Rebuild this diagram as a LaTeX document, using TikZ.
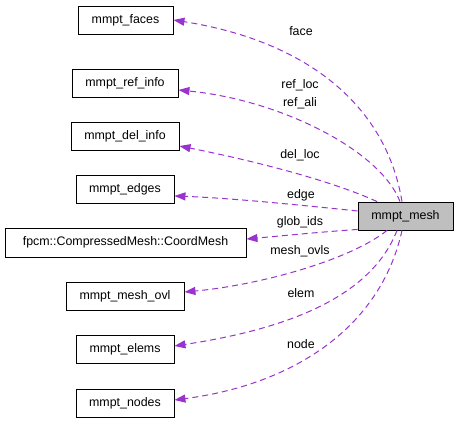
\documentclass[tikz,border=0pt]{standalone}
\usepackage{fontspec}
\setmainfont{Liberation Sans}
\usetikzlibrary{arrows.meta}
\definecolor{edgecol}{HTML}{9A32CD}
\definecolor{meshfill}{HTML}{BFBFBF}
\begin{document}
\begin{tikzpicture}[x=1pt,y=-1pt,
  box/.style={draw=black,line width=0.9pt,minimum height=28pt,inner sep=0pt,font=\fontsize{12.4}{14}\selectfont,anchor=center},
  lbl/.style={inner sep=0pt,font=\fontsize{12.4}{14}\selectfont,anchor=center},
  dep/.style={draw=edgecol,line width=1pt,dash pattern=on 6pt off 4pt,-{Triangle[length=11pt,width=8pt]},fill=none},
]
\useasboundingbox (0,0) rectangle (459,423);
\node[box,minimum width=95pt] (faces) at (125.5,20) {mmpt\_faces};
\node[box,minimum width=106pt] (refinfo) at (125,83) {mmpt\_ref\_info};
\node[box,minimum width=108pt] (delinfo) at (125,136) {mmpt\_del\_info};
\node[box,minimum width=98pt] (edges) at (125,189) {mmpt\_edges};
\node[box,minimum width=241pt,minimum height=29pt] (fpcm) at (125.5,242.5) {fpcm::CompressedMesh::CoordMesh};
\node[box,minimum width=118pt] (meshovl) at (125,296) {mmpt\_mesh\_ovl};
\node[box,minimum width=98pt] (elems) at (125,349) {mmpt\_elems};
\node[box,minimum width=98pt] (nodes) at (125,403) {mmpt\_nodes};
\node[box,minimum width=95pt,fill=meshfill] (mesh) at (405.5,216) {mmpt\_mesh};

\path[dep] ([xshift=-3.5pt]mesh.north) .. controls (385,100) and (300,40) .. (faces.east);
\path[dep] ([xshift=-5.5pt]mesh.north) .. controls (380,150) and (280,100) .. ([yshift=-7pt]refinfo.east);
\path[dep] ([xshift=-28.5pt]mesh.north) .. controls (330,180) and (250,160) .. ([yshift=-10pt]delinfo.east);
\path[dep] ([yshift=5pt]mesh.west) .. controls (300,205) and (230,198) .. ([yshift=-7pt]edges.east);
\path[dep] ([yshift=1pt]mesh.south west) .. controls (320,232) and (280,236) .. ([yshift=3.5pt]fpcm.east);
\path[dep] ([xshift=-18.5pt]mesh.south) .. controls (350,260) and (260,285) .. ([yshift=4pt]meshovl.east);
\path[dep] ([xshift=-8.5pt]mesh.south) .. controls (370,300) and (280,330) .. ([yshift=3pt]elems.east);
\path[dep] ([xshift=-3.5pt]mesh.south) .. controls (380,330) and (290,385) .. ([yshift=3pt]nodes.east);

\node[lbl] (lface) at (301,31) {face};
\node[lbl] (lref) at (300,85) {ref\_loc};
\node[lbl] (lali) at (300,103) {ref\_ali};
\node[lbl] (ldel) at (300,155) {del\_loc};
\node[lbl] (ledge) at (301,195) {edge};
\node[lbl] (lglob) at (300,222) {glob\_ids};
\node[lbl] (lovl) at (300,251) {mesh\_ovls};
\node[lbl] (lelem) at (301,293) {elem};
\node[lbl] (lnode) at (301,344) {node};
\end{tikzpicture}
\end{document}
